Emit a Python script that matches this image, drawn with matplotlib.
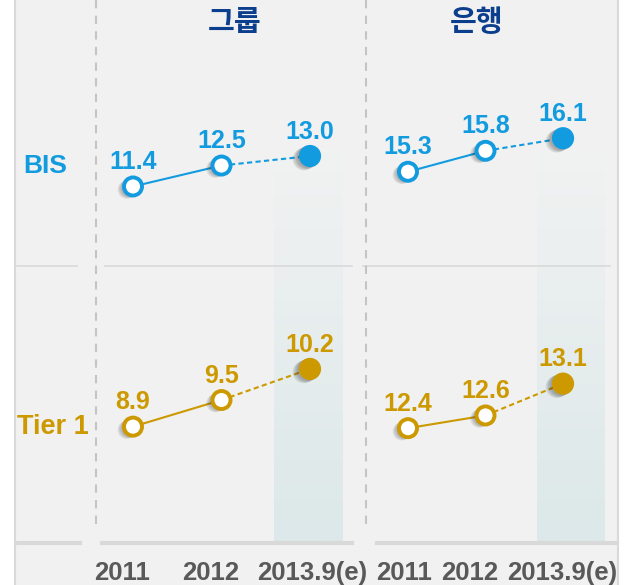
import numpy as np
import matplotlib.pyplot as plt
import matplotlib.patheffects as pe
from matplotlib.patches import Rectangle
from matplotlib.colors import LinearSegmentedColormap

# data
years = ['2011', '2012', '2013.9(e)']
panels = ['그룹', '은행']
rows = ['BIS', 'Tier 1']
bis_group = [11.4, 12.5, 13.0]
bis_bank = [15.3, 15.8, 16.1]
tier1_group = [8.9, 9.5, 10.2]
tier1_bank = [12.4, 12.6, 13.1]

BLUE = '#139be0'
GOLD = '#cc9900'
NAVY = '#0c3e8e'
W, H = 626, 585

fig = plt.figure(figsize=(W / 100, H / 100), dpi=100, facecolor='white')


def px_axes(left, top, right, bottom):
    # axes placed in pixel units of the figure
    return fig.add_axes([left / W, 1 - bottom / H, (right - left) / W, (bottom - top) / H])


# background layer in pixel coordinates
bg = fig.add_axes([0, 0, 1, 1])
bg.add_patch(Rectangle((15, 0), 603, H, fc='#f1f1f1', ec='none'))
bg.plot([15, 15], [0, H], color='#d9d9d9', lw=1.5)
bg.plot([618, 618], [0, H], color='#d9d9d9', lw=1.5)

cmap = LinearSegmentedColormap.from_list('col', ['#f1f2f2', '#dce8e9'])
grad = np.linspace(0, 1, 200).reshape(-1, 1)
for x0, x1 in [(274, 343), (537, 605)]:
    bg.imshow(grad, cmap=cmap, extent=(x0, x1, 541, 150), aspect='auto', zorder=1)

for a, b in [(17, 77), (105, 352), (363, 610)]:
    bg.plot([a, b], [266, 266], color='#d9d9d9', lw=1.2, zorder=2)
for a, b in [(17, 80), (102, 352), (377, 617)]:
    bg.plot([a, b], [543, 543], color='#d9d9d9', lw=3, zorder=2)
for x in [96, 366]:
    bg.plot([x, x], [0, 525], color='#c4c4c4', lw=1.5, dashes=(4, 3.5), zorder=2)

kr = ['Noto Sans CJK KR', 'DejaVu Sans']
lat = ['Liberation Sans', 'DejaVu Sans']
for name, xc in zip(panels, [235, 477]):
    bg.text(xc, 22, name, ha='center', va='center', fontsize=21, fontweight='bold',
            color=NAVY, family=kr)
bg.text(45, 166, rows[0], ha='center', va='center', fontsize=19, fontweight='bold',
        color=BLUE, family=lat)
bg.text(53, 427, rows[1], ha='center', va='center', fontsize=19.5, fontweight='bold',
        color=GOLD, family=lat)

label_x = [[122, 211, 312], [404, 470, 562]]
for xs in label_x:
    for xc, yr in zip(xs, years):
        bg.text(xc, 573, yr, ha='center', va='center', fontsize=18.5, fontweight='bold',
                color='#595959', family=lat)

bg.set_xlim(0, W)
bg.set_ylim(H, 0)
bg.axis('off')

# soft shadow built from a few faint offset copies
shadow = [pe.SimplePatchShadow(offset=(-1.5 - i, -0.8 - 0.5 * i), shadow_rgbFace='#222222',
                               alpha=0.1) for i in range(4)] + [pe.Normal()]


def draw_series(ax, vals, color):
    x = np.arange(len(vals))
    ax.plot(x[:2], vals[:2], color=color, lw=1.5, zorder=2)
    ax.plot(x[1:], vals[1:], color=color, lw=1.5, dashes=(2.5, 1.6), zorder=2)
    ax.plot(x[:2], vals[:2], 'o', ms=13, mfc='white', mec=color, mew=2.8, zorder=3,
            path_effects=shadow)
    ax.plot(x[2:], vals[2:], 'o', ms=16, mfc=color, mec=color, mew=0, zorder=3,
            path_effects=shadow)
    for xi, v in zip(x, vals):
        ax.annotate(f'{v:.1f}', (xi, v), xytext=(0, 12.5), textcoords='offset points',
                    ha='center', va='baseline', fontsize=18, fontweight='bold',
                    color=color, family=lat)
    ax.set_xlim(-0.5, 2.5)
    ax.patch.set_alpha(0)
    ax.axis('off')


cells = [
    (bis_group, BLUE, (88.75, 0, 354.25, 266), (7.22, 21.2)),
    (tier1_group, GOLD, (88.75, 266, 354.25, 542), (6.30, 12.52)),
    (bis_bank, BLUE, (369.25, 0, 601.75, 266), (13.05, 19.40)),
    (tier1_bank, GOLD, (369.25, 266, 601.75, 542), (10.61, 14.95)),
]
for vals, color, box, ylim in cells:
    ax = px_axes(*box)
    draw_series(ax, vals, color)
    ax.set_ylim(*ylim)

fig.savefig('out.png', dpi=100, facecolor='white')
